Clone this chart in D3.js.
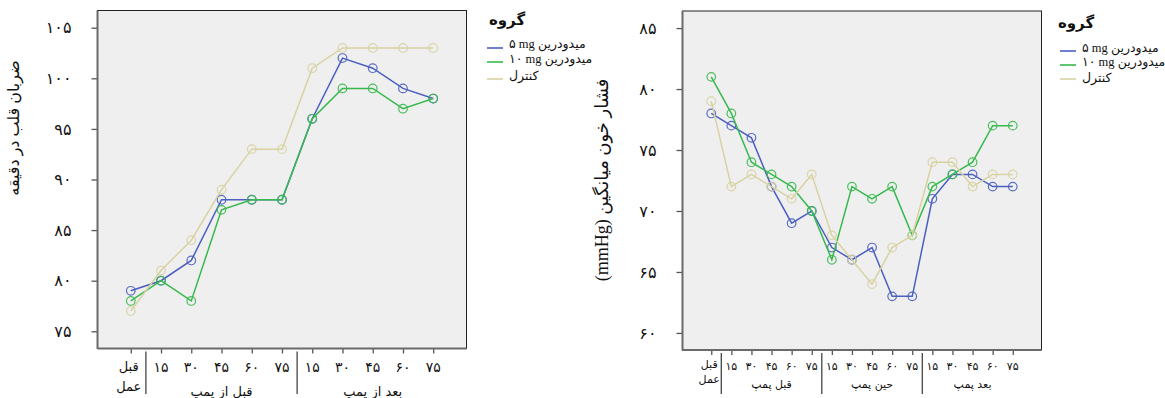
<!DOCTYPE html>
<html><head><meta charset="utf-8">
<script src="https://cdn.jsdelivr.net/npm/d3@7"></script>
<style>body{margin:0;background:#fff}svg{display:block}</style>
</head><body>
<svg id="c" width="1165" height="398"></svg>
<script>
// ---------- shared ----------
const legendTitle = "گروه";
const legendLabels = ["۵ mg میدودرین", "۱۰ mg میدودرین", "کنترل"];
const seriesColors = ["#4a5fc0", "#38b94e", "#d8d2a2"];
const firstCatLines = ["قبل", "عمل"];

// ---------- left chart: heart rate ----------
const hrTitle = "ضربان قلب در دقیقه";
const hrCats = ["base", "b15", "b30", "b45", "b60", "b75", "a15", "a30", "a45", "a60", "a75"];
const hrTickLabels = ["", "۱۵", "۳۰", "۴۵", "۶۰", "۷۵", "۱۵", "۳۰", "۴۵", "۶۰", "۷۵"];
const hrGroupLabels = ["قبل از پمپ", "بعد از پمپ"];
const hrGroupSizes = [5, 5];
const hr5mg  = [79, 80, 82, 88, 88, 88, 96, 102, 101, 99, 98];
const hr10mg = [78, 80, 78, 87, 88, 88, 96, 99, 99, 97, 98];
const hrCtl  = [77, 81, 84, 89, 93, 93, 101, 103, 103, 103, 103];
const hrYTicks = [75, 80, 85, 90, 95, 100, 105];
const hrYDomain = [73.3, 106.7];

// ---------- right chart: mean arterial pressure ----------
const mapTitle = "فشار خون میانگین (mmHg)";
const mapCats = ["base", "b15", "b30", "b45", "b60", "b75", "d15", "d30", "d45", "d60", "d75", "a15", "a30", "a45", "a60", "a75"];
const mapTickLabels = ["", "۱۵", "۳۰", "۴۵", "۶۰", "۷۵", "۱۵", "۳۰", "۴۵", "۶۰", "۷۵", "۱۵", "۳۰", "۴۵", "۶۰", "۷۵"];
const mapGroupLabels = ["قبل پمپ", "حین پمپ", "بعد پمپ"];
const mapGroupSizes = [5, 5, 5];
const map5mg  = [78, 77, 76, 72, 69, 70, 67, 66, 67, 63, 63, 71, 73, 73, 72, 72];
const map10mg = [81, 78, 74, 73, 72, 70, 66, 72, 71, 72, 68, 72, 73, 74, 77, 77];
const mapCtl  = [79, 72, 73, 72, 71, 73, 68, 66, 64, 67, 68, 74, 74, 72, 73, 73];
const mapYTicks = [60, 65, 70, 75, 80, 85];
const mapYDomain = [58.6, 86.4];

const toFa = v => String(v).replace(/\d/g, d => "۰۱۲۳۴۵۶۷۸۹"[+d]);
const svg = d3.select("#c");
const arabicFont = "'DejaVu Sans', sans-serif";
const serifFont = "'Liberation Serif', 'DejaVu Sans', serif";

function drawChart(cfg) {
  const g = svg.append("g");
  const {x0, x1, y0, y1} = cfg.box;
  const x = d3.scalePoint().domain(cfg.cats).range([x0, x1]).padding(cfg.pad);
  const y = d3.scaleLinear().domain(cfg.yDomain).range([y1, y0]);

  g.append("rect").attr("x", x0).attr("y", y0).attr("width", x1 - x0).attr("height", y1 - y0)
    .attr("fill", "#efefef").attr("stroke", "#222").attr("stroke-width", 1);

  // y axis
  const ya = g.append("g").attr("transform", `translate(${x0},0)`)
    .call(d3.axisLeft(y).tickValues(cfg.yTicks).tickSize(6).tickPadding(cfg.yPad).tickFormat(toFa));
  ya.select(".domain").remove();
  ya.selectAll("line").attr("stroke", "#555").attr("stroke-width", 1.3);
  ya.selectAll("text").attr("font-family", arabicFont).attr("font-size", 16).attr("fill", "#111");

  // x axis ticks
  const xa = g.append("g").attr("transform", `translate(0,${y1})`)
    .call(d3.axisBottom(x).tickSize(5).tickFormat(""));
  xa.select(".domain").remove();
  xa.selectAll("line").attr("stroke", "#555").attr("stroke-width", 1.3);

  // axis lines (thicker grey)
  g.append("line").attr("x1", x0).attr("x2", x0).attr("y1", y0).attr("y2", y1 + 0.5).attr("stroke", "#6a6a6a").attr("stroke-width", 2);
  g.append("line").attr("x1", x0).attr("x2", x1).attr("y1", y1).attr("y2", y1).attr("stroke", "#6a6a6a").attr("stroke-width", 2);

  // tick labels
  g.selectAll("text.xl").data(cfg.cats.slice(1)).join("text").attr("class", "xl")
    .attr("x", d => x(d)).attr("y", cfg.numY).attr("text-anchor", "middle")
    .attr("font-family", arabicFont).attr("font-size", cfg.numSize).attr("fill", "#111")
    .text((d, i) => cfg.tickLabels[i + 1]);
  g.selectAll("text.fc").data(firstCatLines).join("text").attr("class", "fc")
    .attr("x", x(cfg.cats[0]) - 2).attr("y", (d, i) => cfg.fcY[i]).attr("text-anchor", "middle")
    .attr("font-family", arabicFont).attr("font-size", cfg.fcSize).attr("fill", "#111").text(d => d);

  // separators and group labels
  let start = 1;
  cfg.groupSizes.forEach((n, gi) => {
    const sx = (x(cfg.cats[start - 1]) + x(cfg.cats[start])) / 2;
    g.append("line").attr("x1", sx).attr("x2", sx).attr("y1", y1 + 3).attr("y2", 394)
      .attr("stroke", "#444").attr("stroke-width", 1.3);
    const cx = (x(cfg.cats[start]) + x(cfg.cats[start + n - 1])) / 2;
    g.append("text").attr("x", cx).attr("y", cfg.groupY).attr("text-anchor", "middle")
      .attr("font-family", arabicFont).attr("font-size", cfg.groupSize).attr("fill", "#111")
      .text(cfg.groupLabels[gi]);
    start += n;
  });

  // y title
  g.append("text").attr("transform", `translate(${cfg.titleX},${cfg.titleY}) rotate(-90)`)
    .attr("text-anchor", "middle").attr("direction", "rtl")
    .attr("font-family", serifFont).attr("font-size", cfg.titleSize).attr("fill", "#111")
    .text(cfg.title);

  // series
  const line = d3.line().x((d, i) => x(cfg.cats[i])).y(d => y(d));
  cfg.series.forEach((vals, si) => {
    g.append("path").datum(vals).attr("d", line).attr("fill", "none")
      .attr("stroke", seriesColors[si]).attr("stroke-width", 1.5);
    g.selectAll(null).data(vals).join("circle")
      .attr("cx", (d, i) => x(cfg.cats[i])).attr("cy", d => y(d)).attr("r", 4.3)
      .attr("fill", "none").attr("stroke", seriesColors[si]).attr("stroke-width", 1.2).attr("stroke-opacity", 0.9);
  });

  // legend
  const L = cfg.legend;
  g.append("text").attr("x", L.titleX).attr("y", L.titleY).attr("text-anchor", "middle")
    .attr("font-family", arabicFont).attr("font-weight", "bold").attr("font-size", 15).attr("fill", "#111")
    .text(legendTitle);
  legendLabels.forEach((lab, i) => {
    g.append("line").attr("x1", L.lx).attr("x2", L.lx + 16).attr("y1", L.ly[i]).attr("y2", L.ly[i])
      .attr("stroke", seriesColors[i]).attr("stroke-width", 1.6);
    g.append("text").attr("x", L.tx).attr("y", L.ty[i]).attr("direction", "ltr")
      .attr("font-family", serifFont).attr("font-size", 12.5).attr("fill", "#111").text(lab);
  });
}

drawChart({
  box: {x0: 97.5, x1: 466.5, y0: 10.5, y1: 348.5}, pad: 1.1,
  cats: hrCats, tickLabels: hrTickLabels, yTicks: hrYTicks, yDomain: hrYDomain, yPad: 20,
  series: [hr5mg, hr10mg, hrCtl],
  numY: 372, numSize: 14, fcY: [371, 391], fcSize: 13,
  groupSizes: hrGroupSizes, groupLabels: hrGroupLabels, groupY: 396, groupSize: 13,
  title: hrTitle, titleX: 19, titleY: 128, titleSize: 16,
  legend: {titleX: 507, titleY: 25, lx: 487, ly: [48, 62, 79], tx: 509, ty: [48, 63, 80]}
});
drawChart({
  box: {x0: 682.5, x1: 1041.5, y0: 11, y1: 350}, pad: 1.43,
  cats: mapCats, tickLabels: mapTickLabels, yTicks: mapYTicks, yDomain: mapYDomain, yPad: 20,
  series: [map5mg, map10mg, mapCtl],
  numY: 370, numSize: 11, fcY: [368, 383], fcSize: 11,
  groupSizes: mapGroupSizes, groupLabels: mapGroupLabels, groupY: 388, groupSize: 11,
  title: mapTitle, titleX: 608, titleY: 180, titleSize: 18,
  legend: {titleX: 1076, titleY: 28, lx: 1060, ly: [51, 65, 79], tx: 1082, ty: [52, 66, 82]}
});
</script>
</body></html>
